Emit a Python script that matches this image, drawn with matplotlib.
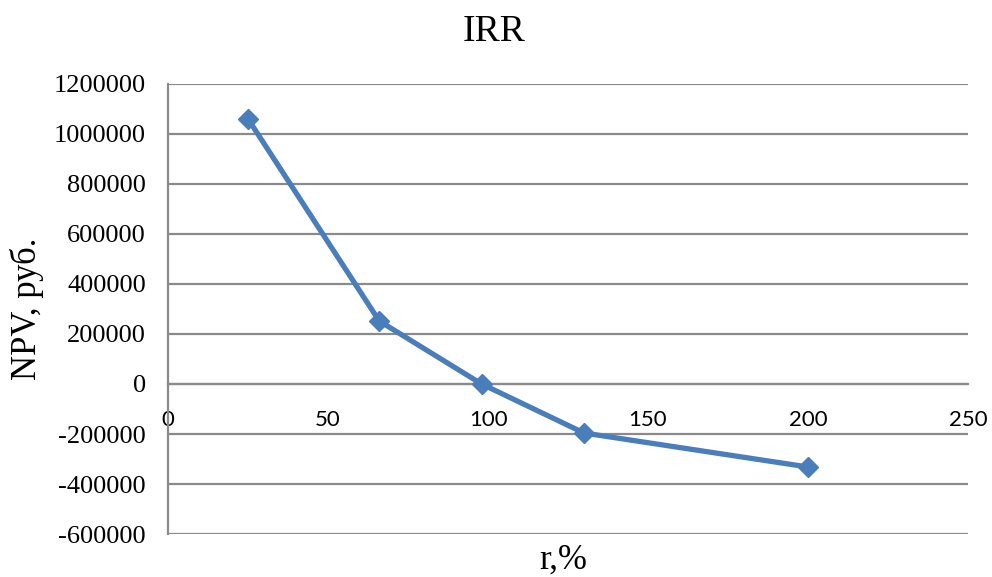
import matplotlib
matplotlib.use("Agg")
import matplotlib.pyplot as plt

# discount rate, % and NPV, rub.
rates = [25, 66, 98, 130, 200]
npv = [1060000, 252000, 0, -196000, -332000]

y_ticks = list(range(-600000, 1200001, 200000))
x_ticks = [0, 50, 100, 150, 200, 250]

serif = ["Liberation Serif", "DejaVu Serif"]
grid_color = "#8a8a8a"

fig = plt.figure(figsize=(9.92, 5.77), dpi=100)
ax = fig.add_axes([0.1694, 0.0745, 0.8064, 0.78])

ax.plot(rates, npv, color="#4A7EBB", linewidth=3.8, marker="D",
        markersize=10.5, zorder=3)

# x axis crosses at NPV = 0 (spine must be placed before tick labels are set)
for side in ["top", "right"]:
    ax.spines[side].set_visible(False)
ax.spines["bottom"].set_position(("data", 0))
for side in ["left", "bottom"]:
    ax.spines[side].set_color(grid_color)
    ax.spines[side].set_linewidth(1.6)

ax.set_xlim(0, 250)
ax.set_ylim(-600000, 1200000)
ax.set_xticks(x_ticks)
ax.set_yticks(y_ticks)
ax.set_yticklabels([str(v) for v in y_ticks], family=serif, fontsize=19)
ax.set_xticklabels([str(v) for v in x_ticks], family="Lato", fontsize=16)

ax.grid(axis="y", color=grid_color, linewidth=1.6)
ax.set_axisbelow(True)
ax.tick_params(axis="y", length=0, pad=16)
ax.tick_params(axis="x", length=0, pad=19)

fig.text(0.498, 0.945, "IRR", family=serif, fontsize=27,
         ha="center", va="center")
ax.set_ylabel("NPV, руб.", family=serif, fontsize=25, labelpad=7)
ax.set_xlabel("r,%", family=serif, fontsize=25)
ax.xaxis.set_label_coords(0.494, -0.022)

fig.savefig("out.png", dpi=100)
